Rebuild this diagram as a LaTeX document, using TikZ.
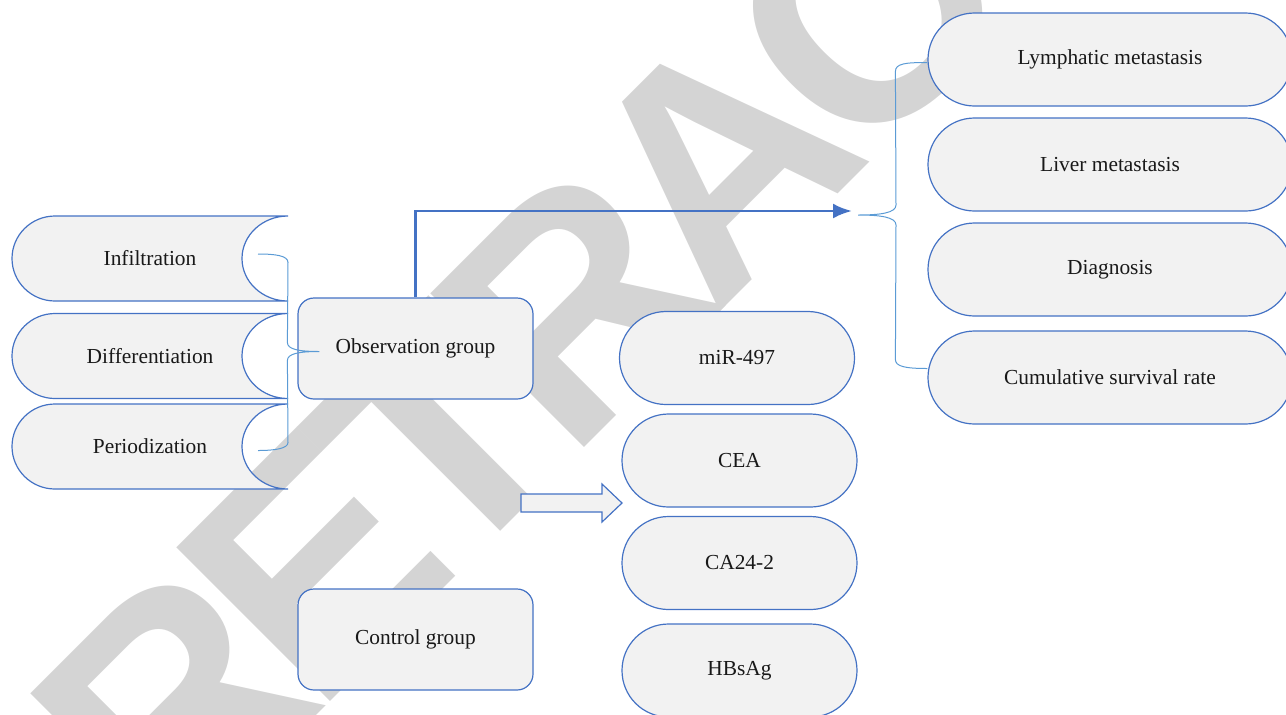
\documentclass[tikz,border=0pt]{standalone}
\usepackage{fontspec}
\setmainfont{Liberation Serif}
\newfontfamily\markfont{Liberation Sans}[LetterSpace=-7]
\usetikzlibrary{arrows.meta, shapes.misc, calc, positioning}
\definecolor{ColorA}{HTML}{4472C4}
\definecolor{ColorB}{HTML}{5B9BD5}
\definecolor{A}{HTML}{F2F2F2}
\definecolor{Mark}{HTML}{D4D4D4}

\begin{document}
\begin{tikzpicture}[x=0.5pt, y=-0.5pt,
store/.style={
	rectangle,
	minimum width=138pt,
	minimum height=42.5pt,
	inner sep=0pt,
	font=\fontsize{10.7}{12}\selectfont,
	text=black!90},
storeline/.style={
	draw=ColorA,
	fill=A,
	line width=0.6pt},
group/.style={
	rectangle,
	rounded corners=8pt,
	draw=ColorA,
	fill=A,
	line width=0.6pt,
	minimum width=117.5pt,
	minimum height=50.5pt,
	inner sep=0pt,
	font=\fontsize{10.7}{12}\selectfont,
	text=black!90},
marker/.style={
	rounded rectangle,
	draw=ColorA,
	fill=A,
	line width=0.6pt,
	minimum width=117.5pt,
	minimum height=46.5pt,
	inner sep=0pt,
	font=\fontsize{10.7}{12}\selectfont,
	text=black!90},
outcome/.style={
	marker,
	minimum width=182pt},
post/.style={
	->,
	draw,
	>={Latex[length=9.5pt, width=7.5pt]},
	line width=1.4pt,
	color=ColorA},
brace/.style={
	draw,
	line width=0.5pt,
	color=ColorB},
block/.style={
	draw=ColorA,
	fill=A,
	line width=0.6pt},
stamp/.style={
	text=Mark,
	font=\markfont\bfseries\fontsize{158}{158}\selectfont,
	inner sep=0pt,
	rotate=45,
	anchor=base west}]

\useasboundingbox (0,0) rectangle (1286,714);
\clip (0,0) rectangle (1286,714);

%Watermark
\node[stamp] (Stamp) at (169,863) {RETRACTED};

%Left items
\foreach \n/\t/\y in {Inf/Infiltration/258.5, Dif/Differentiation/356, Per/Periodization/446.5}{
	\path[storeline] (150,\y) ++(138,-42.5) -- ++(-233,0)
		arc[start angle=90, end angle=270, x radius=21.5pt, y radius=21.25pt] -- ++(233,0)
		arc[start angle=270, end angle=90, x radius=23pt, y radius=21.25pt] -- cycle;
	\node[store] (\n) at (150,\y) {\t};
}

%Groups
\node[group] (Obs) at (415.5,348.5) {Observation group};
\node[group] (Con) at (415.5,639.5) {Control group};

%Markers
\foreach \t/\x/\y [count=\i] in {miR-497/737/358, CEA/739.5/460.5, CA24-2/739.5/563, HBsAg/739.5/670.5}{
	\node[marker] (M\i) at (\x,\y) {\t};
}

%Outcomes
\node[outcome] (Lym) at (1110,59.5) {Lymphatic metastasis};
\node[outcome] (Liv) at (1110,164.5) {Liver metastasis};
\node[outcome] (Dia) at (1110,269.5) {Diagnosis};
\node[outcome] (Cum) at (1110,377.5) {Cumulative survival rate};

%Left brace
\path[brace] ($(Inf.center)+(108,-4.5)$) .. controls ($(Inf.center)+(125,-4.5)$) and ($(Inf.center)+(138,-3)$) .. ($(Inf.center)+(138,4)$)
	-- ($(Obs.west)+(-10,-6)$) .. controls ($(Obs.west)+(-10,1)$) and ($(Obs.west)+(2,3)$) .. ($(Obs.west)+(22,3)$)
	.. controls ($(Obs.west)+(2,3)$) and ($(Obs.west)+(-10,5)$) .. ($(Obs.west)+(-10,12)$)
	-- ($(Per.center)+(138,-4)$) .. controls ($(Per.center)+(138,2)$) and ($(Per.center)+(125,4)$) .. ($(Per.center)+(108,4)$);

%Main arrow
\coordinate (OutTip) at (852,211);
\path[post] (Obs.north) |- (OutTip);

%Right brace
\path[brace] ($(Lym.west)+(0,3)$) .. controls ($(Lym.west)+(-22,3)$) and ($(Lym.west)+(-32,4)$) .. ($(Lym.west)+(-32,12)$)
	-- ($(OutTip)+(44,-6)$) .. controls ($(OutTip)+(44,2)$) and ($(OutTip)+(28,4)$) .. ($(OutTip)+(6,4)$)
	.. controls ($(OutTip)+(28,4)$) and ($(OutTip)+(44,6)$) .. ($(OutTip)+(44,14)$)
	-- ($(Cum.west)+(-32,-18)$) .. controls ($(Cum.west)+(-32,-11)$) and ($(Cum.west)+(-22,-9)$) .. ($(Cum.west)+(0,-9)$);

%Block arrow
\path[block] (521,494) -- (602,494) -- (602,484) -- (622,503) -- (602,522) -- (602,512) -- (521,512) -- cycle;

\end{tikzpicture}
\end{document}
